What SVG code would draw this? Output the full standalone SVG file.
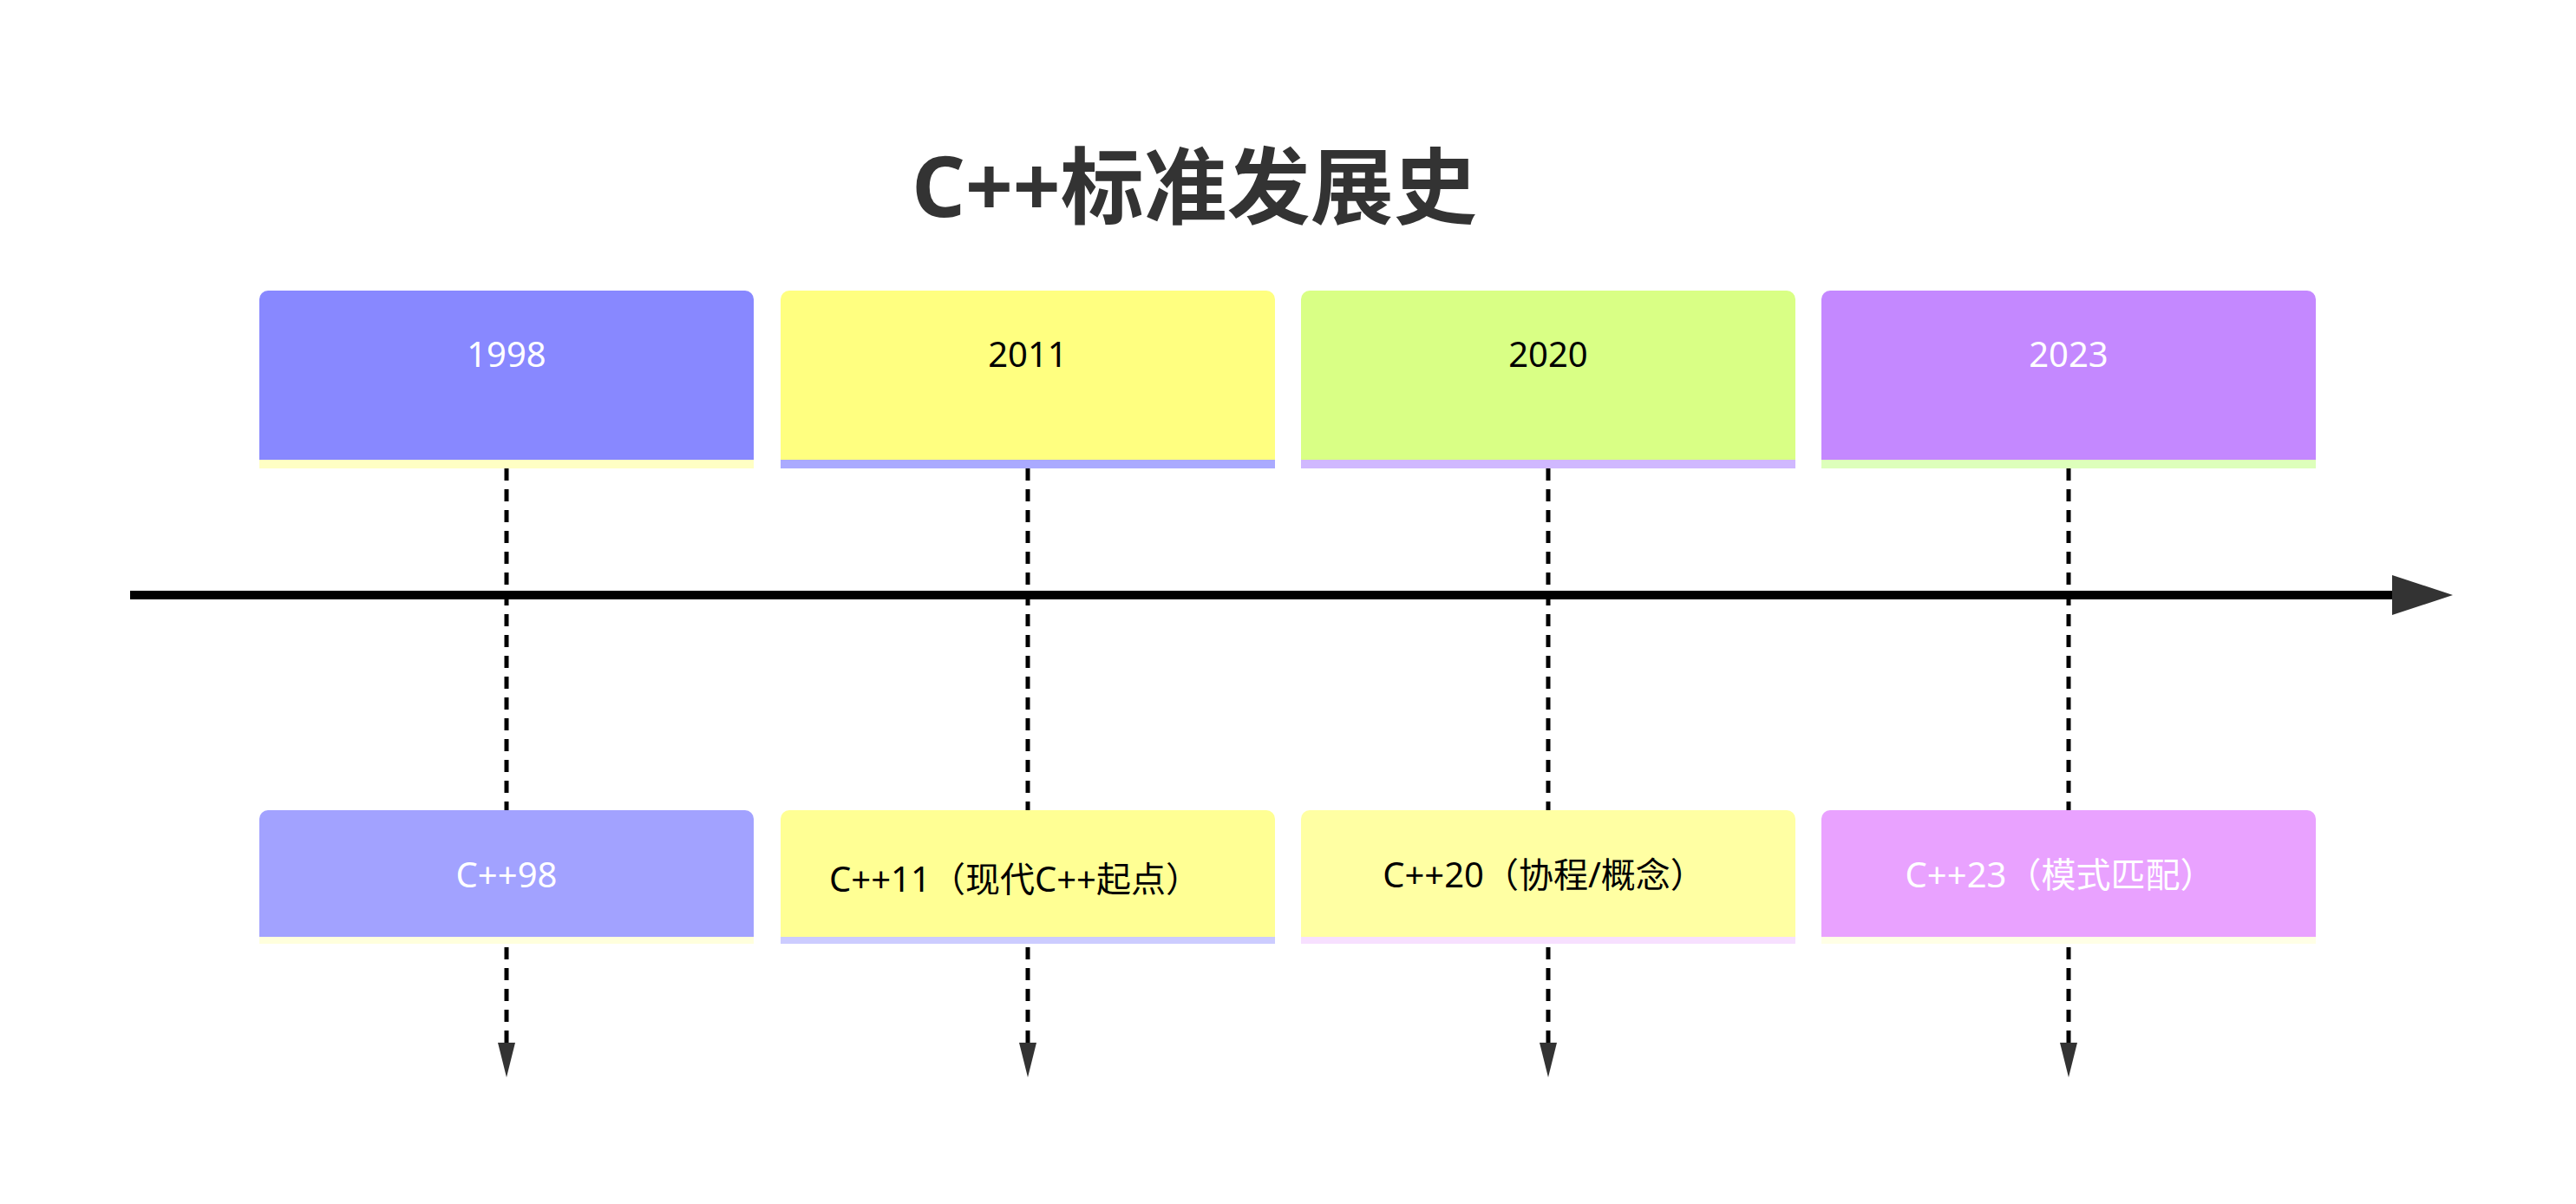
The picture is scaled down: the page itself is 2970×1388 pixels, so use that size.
<svg xmlns="http://www.w3.org/2000/svg" width="2970" height="1388" viewBox="0 0 2970 1388">
<style>
.t{font-family:"Noto Sans","Noto Sans CJK SC",sans-serif;text-anchor:middle;dominant-baseline:central}
.y{font-size:40px}
.e{font-size:40px}
.w{fill:#ffffff}.k{fill:#000000}
.dash{stroke:#000;stroke-width:5;stroke-dasharray:14 10;fill:none}
</style>
<defs>
<marker id="ah" markerWidth="10" markerHeight="10" refX="9" refY="5" orient="auto" markerUnits="userSpaceOnUse" viewBox="0 0 10 10"><path d="M0,0 L10,5 L0,10 Z" fill="#333"/></marker>
<marker id="big" viewBox="0 0 70 48" refX="68" refY="24" markerWidth="70" markerHeight="48" orient="auto" markerUnits="userSpaceOnUse"><path d="M0,0 L70,24 L0,48 Z" fill="#333"/></marker>
<marker id="sm" viewBox="0 0 20 40" refX="10" refY="40" markerWidth="20" markerHeight="40" orient="0" markerUnits="userSpaceOnUse"><path d="M0,0 L20,0 L10,40 Z" fill="#333"/></marker>
</defs>
<text x="1377" y="212" font-family="'Noto Sans','Noto Sans CJK SC',sans-serif" font-size="96" font-weight="bold" fill="#333" text-anchor="middle" dominant-baseline="central">C++标准发展史</text>
<g id="connectors">
<line class="dash" x1="584" y1="540" x2="584" y2="1202"/>
<line class="dash" x1="1185" y1="540" x2="1185" y2="1202"/>
<line class="dash" x1="1785" y1="540" x2="1785" y2="1202"/>
<line class="dash" x1="2385" y1="540" x2="2385" y2="1202"/>
<path d="M574,1202 L594,1202 L584,1242 Z" fill="#333"/>
<path d="M1175,1202 L1195,1202 L1185,1242 Z" fill="#333"/>
<path d="M1775,1202 L1795,1202 L1785,1242 Z" fill="#333"/>
<path d="M2375,1202 L2395,1202 L2385,1242 Z" fill="#333"/>
<line x1="150" y1="686" x2="2770" y2="686" stroke="#000" stroke-width="10"/>
<path d="M2758,663 L2828,686 L2758,709 Z" fill="#333"/>
</g>
<g id="y1998"><path d="M299,345 a10,10 0 0 1 10,-10 h550 a10,10 0 0 1 10,10 v185 h-570 Z" fill="#8888ff"/><rect x="299" y="530" width="570" height="10" fill="#ffffc4"/><text class="t y w" x="584" y="407">1998</text></g>
<g id="y2011"><path d="M900,345 a10,10 0 0 1 10,-10 h550 a10,10 0 0 1 10,10 v185 h-570 Z" fill="#ffff80"/><rect x="900" y="530" width="570" height="10" fill="#aaaaff"/><text class="t y k" x="1185" y="407">2011</text></g>
<g id="y2020"><path d="M1500,345 a10,10 0 0 1 10,-10 h550 a10,10 0 0 1 10,10 v185 h-570 Z" fill="#d9ff85"/><rect x="1500" y="530" width="570" height="10" fill="#d0b8ff"/><text class="t y k" x="1785" y="407">2020</text></g>
<g id="y2023"><path d="M2100,345 a10,10 0 0 1 10,-10 h550 a10,10 0 0 1 10,10 v185 h-570 Z" fill="#c488ff"/><rect x="2100" y="530" width="570" height="10" fill="#ddffbb"/><text class="t y w" x="2385" y="407">2023</text></g>
<g id="cpp98"><path d="M299,944 a10,10 0 0 1 10,-10 h550 a10,10 0 0 1 10,10 v136 h-570 Z" fill="#a2a2ff"/><rect x="299" y="1080" width="570" height="8" fill="#ffffdd"/><text class="t e w" x="584" y="1007">C++98</text></g>
<g id="cpp11"><path d="M900,944 a10,10 0 0 1 10,-10 h550 a10,10 0 0 1 10,10 v136 h-570 Z" fill="#ffff94"/><rect x="900" y="1080" width="570" height="8" fill="#ccccff"/><text class="t e k" x="1170" y="1012">C++11（现代C++起点）</text></g>
<g id="cpp20"><path d="M1500,944 a10,10 0 0 1 10,-10 h550 a10,10 0 0 1 10,10 v136 h-570 Z" fill="#ffffa3"/><rect x="1500" y="1080" width="570" height="8" fill="#f7e0ff"/><text class="t e k" x="1780" y="1007">C++20（协程/概念）</text></g>
<g id="cpp23"><path d="M2100,944 a10,10 0 0 1 10,-10 h550 a10,10 0 0 1 10,10 v136 h-570 Z" fill="#e9a2ff"/><rect x="2100" y="1080" width="570" height="8" fill="#ffffe6"/><text class="t e w" x="2375" y="1007">C++23（模式匹配）</text></g>
</svg>
